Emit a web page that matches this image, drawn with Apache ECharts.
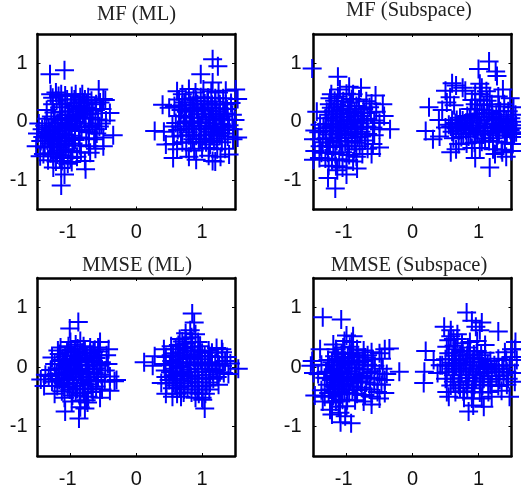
<!DOCTYPE html>
<html><head><meta charset="utf-8">
<style>html,body{margin:0;padding:0;background:#fff}#c{width:521px;height:490px}</style>
<script src="https://cdn.jsdelivr.net/npm/echarts@6/dist/echarts.min.js"></script>
</head><body><div id="c"></div>
<script>
const panelTitles = ['MF (ML)', 'MF (Subspace)', 'MMSE (ML)', 'MMSE (Subspace)'];
const tickValues = [-1, 0, 1];

const mfMl = [
[-1.31,.81],[-1.09,.88],[-.57,.55],[-.35,-.23],[-.40,.15],[-.5,.39],[-1.14,-1.09],[-1.09,-.9],[-.77,-.81],[-.78,-.67],[-.5,-.42],[-1.52,-.42],[-1.46,-.59],
[-1.3,.47],[-1.22,.5],[-1.18,.44],[-1.08,.45],[-.98,.44],[-.85,.42],[-.78,.38],[-.68,.36],[-.55,.33],[-.47,.37],[-.52,.22],[-.62,.2],[-.74,.24],[-.87,.27],[-.99,.31],[-1.12,.3],[-1.27,.3],[-1.36,.2],
[-1.25,.16],[-1.13,.17],[-1.02,.18],[-.92,.13],[-.81,.12],[-.69,.07],[-.58,.04],[-.46,.02],[-.56,-.08],[-.67,-.06],[-.78,-.03],[-.9,0],[-1.01,.03],[-1.13,.05],[-1.24,.04],[-1.36,.05],[-1.48,-.03],
[-1.43,-.13],[-1.33,-.1],[-1.22,-.08],[-1.12,-.1],[-1.03,-.12],[-.93,-.14],[-.83,-.16],[-.72,-.18],[-.6,-.2],[-.5,-.27],[-.64,-.3],[-.76,-.28],[-.87,-.27],[-.98,-.24],[-1.08,-.22],[-1.17,-.2],[-1.27,-.21],[-1.38,-.23],[-1.5,-.2],
[-1.45,-.33],[-1.35,-.32],[-1.25,-.3],[-1.16,-.33],[-1.06,-.34],[-.96,-.37],[-.86,-.4],[-.72,-.42],[-.62,-.46],[-.7,-.53],[-.84,-.52],[-.97,-.5],[-1.07,-.47],[-1.17,-.44],[-1.28,-.42],[-1.39,-.44],
[-1.41,-.55],[-1.3,-.54],[-1.2,-.56],[-1.1,-.58],[-1,-.62],[-.9,-.6],[-1.34,-.66],[-1.22,-.68],[-1.13,-.67],[-1.04,-.72],[-1.26,-.78],[-1.14,-.79],[-.98,-.69],
[-1.19,-.02],[-1.06,-.04],[-.95,.27],[-1.19,-.26],[-1.31,-.16],[-.85,.05],[-1.08,.11],[-.8,.33],[-1.21,.36],
[-1.39,-.07],[-1.33,-.28],[-1.27,-.13],[-1.24,-.37],[-1.21,-.49],[-1.19,-.17],[-1.15,.02],[-1.14,-.39],[-1.11,-.52],[-1.09,-.28],[-1.07,-.15],[-1.04,.07],[-1.03,-.41],[-1.02,-.28],[-.99,-.07],[-.97,.12],[-.94,.38],[-.93,-.31],[-.91,.22],[-.89,.09],[-.88,.33],[-.86,-.09],[-.83,.23],[-.79,.17],[-.77,.07],[-.75,.31],[-.71,.13],[-1.31,-.37],[-1.37,-.17],[-1.29,.09],[-1.16,.25],[-1.05,.38],[-1.42,-.26],[-1.26,-.59],[-1.16,-.62],
[-1.27,.41],[-1.14,.47],[-.92,.47],[-.82,.47],[-.73,.42],[-.61,.3],[-.66,.14],[-.72,-.1],[-.62,-.13],[-.53,-.03],
[.28,-.16],[.4,.29],[.5,.24],[.45,-.39],[.56,-.62],[.91,-.65],[1.16,-.67],[1.16,1.07],[1.24,.95],[.98,.81],[1.16,.67],[1.51,.55],[1.36,.53],[1.54,.39],[1.54,-.27],[1.41,-.56],[.42,-.17],
[.62,.52],[.7,.47],[.8,.56],[.9,.5],[1.02,.55],[1.14,.52],[1.25,.5],[.65,.38],[.75,.39],[.87,.4],[.98,.42],[1.09,.41],[1.2,.4],[1.32,.4],[1.44,.32],[1.38,.22],[1.27,.3],
[.58,.27],[.7,.28],[.82,.29],[.93,.3],[1.04,.31],[1.15,.29],[.76,.17],[.88,.18],[.99,.2],[1.1,.19],[1.22,.18],[1.34,.14],[1.46,.12],[1.5,.03],[1.39,.04],[1.28,.06],[1.17,.09],[1.05,.08],[.94,.07],[.83,.07],[.65,.1],
[.6,-.02],[.72,-.02],[.84,-.03],[.95,-.01],[1.06,-.02],[1.17,-.03],[1.29,-.04],[1.41,-.06],[1.47,-.13],[1.33,-.14],[1.22,-.12],[1.1,-.11],[.99,-.12],[.88,-.13],[.76,-.12],[.63,-.14],[.55,-.08],
[.57,-.25],[.68,-.24],[.8,-.23],[.91,-.24],[1.03,-.23],[1.15,-.22],[1.27,-.24],[1.39,-.25],[1.47,-.3],[1.3,-.35],[1.18,-.33],[1.06,-.35],[.95,-.34],[.83,-.36],[.7,-.35],[.56,-.38],
[.62,-.47],[.76,-.46],[.88,-.49],[1,-.46],[1.11,-.45],[1.23,-.47],[1.35,-.46],[1.1,-.58],[1.28,-.6],[.8,-.6],[1.2,-.68],
[1.01,.13],[1.03,.24],[1.07,-.07],[1.08,.35],[1.12,.04],[1.13,-.17],[1.14,.24],[1.16,.14],[1.19,-.08],[1.2,.34],[1.21,.02],[1.24,-.19],[1.26,.12],[1.27,.23],[1.31,-.09],[1.32,.09],[1.35,-.2],[1.36,.3],[.97,-.07],[.93,.13],[.91,.36],[.86,-.08],[.85,.23],[.81,.01],[.79,-.18],[.74,.09],[.73,.33],[.67,-.08],[1.05,-.29],[.97,-.29],[1.22,-.29],[1.12,-.39],[.86,-.3],[.92,.25],[.68,.2]
];

const mfSub = [
[-1.52,.91],[-1.13,.77],[-.78,.58],[-.56,.45],[-.45,.3],[-.43,.1],[-.34,-.13],[-.5,-.44],[-.84,-.8],[-1.17,-1.14],[-1.28,-.96],[-1,-.9],[-1.14,-.83],[-1.5,-.65],[-1.48,-.5],[-1.5,-.3],[-1.48,-.15],[-1.45,.17],
[-1.23,.47],[-1.13,.43],[-1,.48],[-.9,.47],[-.81,.38],[-.7,.35],[-.62,.31],[-.55,.17],[-1.26,.3],[-1.15,.3],[-1.05,.35],[-.94,.33],[-.85,.27],[-.74,.22],[-.63,.16],[-1.3,.17],[-1.2,.18],[-1.09,.2],[-.98,.22],[-.88,.18],[-.78,.1],[-.68,.05],[-.58,.02],[-.5,-.02],
[-1.32,.06],[-1.22,.07],[-1.11,.08],[-1,.08],[-.9,.04],[-.79,-.03],[-.69,-.08],[-.6,-.1],[-.5,-.13],[-1.4,-.05],[-1.3,-.04],[-1.2,-.05],[-1.09,-.04],[-.98,-.05],[-.88,-.08],[-.78,-.17],[-.68,-.21],[-.58,-.23],
[-1.42,-.18],[-1.32,-.16],[-1.22,-.16],[-1.12,-.15],[-1.02,-.17],[-.92,-.2],[-.83,-.27],[-.72,-.32],[-.6,-.38],[-1.41,-.3],[-1.31,-.28],[-1.21,-.29],[-1.11,-.27],[-1.01,-.28],[-.92,-.33],[-.8,-.42],[-.68,-.46],[-.62,-.55],
[-1.4,-.42],[-1.3,-.41],[-1.2,-.43],[-1.08,-.4],[-.98,-.42],[-.88,-.47],[-.76,-.55],[-1.38,-.53],[-1.28,-.53],[-1.17,-.55],[-1.06,-.52],[-.96,-.57],[-.85,-.6],[-1.32,-.63],[-1.22,-.66],[-1.11,-.64],[-1,-.66],[-.9,-.68],[-1.27,-.75],[-1.16,-.76],[-1.06,-.78],[-1.41,-.62],
[-1.1,.55],[-.96,.6],[-1.25,.4],[-1.07,-.1],[-1.15,-.33],
[-1.27,.12],[-1.24,-.09],[-1.23,.24],[-1.18,.36],[-1.17,-.1],[-1.16,.02],[-1.14,.13],[-1.13,-.21],[-1.1,-.33],[-1.07,.26],[-1.05,.14],[-1.04,.02],[-1.03,-.11],[-1.02,-.34],[-.96,.15],[-.95,.27],[-.94,-.1],[-.93,.01],[-.92,.39],[-.86,.1],[-.84,-.13],[-.83,-.02],[-.82,.21],[-.76,-.1],[-.75,.02],[-.73,.15],[-1.26,-.22],[-1.35,-.11],[-1.36,-.35],[-1.25,-.36],[-.97,-.23],[-.87,-.22],[-.65,.25],[-1.08,-.21],[-.86,-.36],[-.77,-.25],
[.2,-.16],[.25,.25],[.31,-.3],[.41,-.25],[.4,.03],[.45,.2],[.5,.53],[.6,.66],[.66,.62],[.76,.58],[.8,.53],[.57,.42],[.52,.33],[.63,.28],[.5,-.1],[.55,-.05],
[1,.9],[1.16,1.03],[1.26,.86],[1.28,.78],[1.02,.65],[1.05,.58],[.95,.48],[1.37,.55],[1.48,.4],[1.53,.25],[1.17,.43],[1.12,.52],[1.3,.43],[1.39,.3],[.9,.37],[1.02,.38],[.95,.3],[1.08,.28],[1.2,.3],[1.33,.18],[1.45,.18],[1.56,.12],
[.6,.03],[.72,.07],[.83,.1],[.94,.13],[1.05,.14],[1.16,.15],[1.27,.12],[1.38,.09],[1.49,.06],[.58,-.08],[.69,-.05],[.79,-.03],[.9,-.01],[1.01,.02],[1.12,.03],[1.23,.02],[1.34,-.01],[1.45,-.03],[1.57,-.06],
[.6,-.17],[.7,-.15],[.81,-.14],[.92,-.12],[1.03,-.1],[1.14,-.09],[1.26,-.11],[1.37,-.13],[1.48,-.14],[1.57,-.18],[.62,-.28],[.74,-.26],[.85,-.25],[.96,-.22],[1.07,-.22],[1.18,-.2],[1.29,-.23],[1.4,-.24],[1.5,-.26],
[.7,-.38],[.82,-.37],[.94,-.36],[1.05,-.34],[1.16,-.33],[1.28,-.34],[1.4,-.36],[1.52,-.38],[.58,-.52],[.66,-.47],[.9,-.45],[1.02,-.45],[1.22,-.47],[1.35,-.48],[1.5,-.5],[.95,-.62],[1.25,-.55],[1.42,-.6],[1.17,-.78],[1.36,-.52],
[.65,-.02],[.66,-.11],[.67,.03],[.74,-.09],[.76,.02],[.77,-.21],[.87,.05],[.86,-.07],[.88,-.19],[.97,.08],[.98,-.06],[.99,-.17],[1.09,.09],[1.09,-.03],[1.1,-.16],[1.1,-.28],[1.21,.08],[1.2,-.04],[1.21,-.16],[1.22,-.28],[1.31,.05],[1.3,-.06],[1.31,-.18],[1.42,.03],[1.42,-.09],[1.43,-.19],[1.53,0],[1.52,-.11],[1.54,-.21],[1.08,.2],[.98,.21],[1.2,.19],[1.31,.26],[.88,.22],[1.13,.36],[1.03,.47]
];

const mmseMl = [
[-.88,.76],[-1.01,.65],[-.87,-.87],[-1.08,-.75],[-.78,-.7],[-.85,-.68],[-.3,-.22],[-.33,-.24],[-1.45,-.21],[-1.4,-.32],[-1.38,-.13],[-.4,-.4],[-.55,-.52],[-.74,-.6],
[-1.15,.33],[-1.03,.35],[-.92,.38],[-.8,.35],[-.7,.33],[-.58,.33],[-.42,.3],[-.45,.2],[-.58,.2],[-.7,.23],[-.82,.24],[-.93,.26],[-1.05,.25],[-1.17,.22],[-1.28,.16],
[-1.24,.05],[-1.12,.12],[-1,.14],[-.88,.15],[-.77,.13],[-.65,.1],[-.53,.08],[-.43,.05],[-.47,-.06],[-.6,-.02],[-.72,.02],[-.83,.04],[-.95,.03],[-1.07,.02],[-1.18,-.02],[-1.3,-.05],
[-1.33,-.15],[-1.21,-.12],[-1.1,-.09],[-.98,-.07],[-.87,-.06],[-.76,-.08],[-.64,-.1],[-.53,-.13],[-.4,-.16],[-.48,-.25],[-.6,-.22],[-.72,-.18],[-.83,-.16],[-.95,-.17],[-1.06,-.19],[-1.17,-.22],[-1.28,-.25],
[-1.2,-.32],[-1.09,-.29],[-.97,-.27],[-.85,-.27],[-.73,-.29],[-.61,-.33],[-.52,-.38],[-.66,-.42],[-.78,-.38],[-.9,-.37],[-1.01,-.38],[-1.13,-.41],[-1.24,-.45],[-1.09,-.52],[-.97,-.48],[-.86,-.48],[-.73,-.5],[-.98,-.58],[-.85,-.57],[-.76,-.56],
[-1,.42],[-.85,.44],[-.55,.42],[-.9,.1],[-1,-.02],[-.8,-.22],[-1.1,.05],[-.65,.25],[-.88,-.1],[-.95,-.33],
[-1.16,.1],[-1.14,-.03],[-1.13,-.14],[-1.11,-.27],[-1.08,.18],[-1.05,.08],[-1.04,-.04],[-1.02,-.13],[-1.03,-.27],[-.99,.29],[-.96,.19],[-.94,.09],[-.92,-.04],[-.91,-.22],[-.89,.31],[-.86,.2],[-.85,.09],[-.84,-.03],[-.82,-.11],[-.81,-.31],[-.78,.29],[-.75,.19],[-.74,.08],[-.73,-.04],[-.71,-.12],[-.69,-.24],[-.68,.16],[-.66,.04],[-.64,-.04],[-.63,.29],[-.61,.15],[-.58,-.17],[-.56,.26],[-.55,.02],[-1.19,.28],[-1.22,-.2],[-1.04,-.34],[-.92,-.43],[-.8,-.44],[-.68,-.36],
[.12,.08],[.28,.18],[.25,.02],[.38,-.27],[.45,-.45],[.55,-.5],[.85,.9],[.88,.75],[.75,.57],[.82,.62],[.9,.55],[1.55,-.03],[1.43,.06],[1.4,-.12],[1.38,.17],[1.3,.3],[1.04,-.7],[1.01,-.55],
[.42,.3],[.53,.35],[.64,.37],[.75,.39],[.85,.42],[.97,.35],[1.1,.28],[1.22,.32],[1.31,.25],[.45,.17],[.56,.23],[.67,.25],[.78,.28],[.89,.28],[1,.24],[1.12,.18],[1.24,.17],[1.35,.1],
[.42,.05],[.54,.1],[.65,.13],[.76,.15],[.87,.15],[.98,.13],[1.09,.08],[1.2,.06],[1.31,.02],[.44,-.06],[.56,-.03],[.67,0],[.78,.03],[.89,.04],[1,.02],[1.11,-.03],[1.22,-.05],[1.33,-.1],
[.45,-.17],[.56,-.14],[.67,-.12],[.78,-.09],[.89,-.08],[1,-.08],[1.11,-.13],[1.23,-.17],[.46,-.28],[.57,-.26],[.68,-.23],[.79,-.2],[.9,-.19],[1.01,-.2],[1.12,-.26],[1.25,-.3],[.55,-.36],[.66,-.35],[.78,-.33],[.89,-.32],[1,-.33],[1.11,-.38],
[.62,-.45],[.72,-.43],[.84,-.43],[.95,-.45],[1.05,-.45],[1,-.52],[.9,-.52],[.68,-.5],[.75,.48],[.66,.47],[.93,.18],[.7,-.07],[.85,-.25],[.6,.3],
[.51,.03],[.52,-.09],[.53,.2],[.6,.08],[.61,-.08],[.62,-.2],[.63,.19],[.7,.06],[.71,.19],[.72,-.16],[.73,-.28],[.73,.32],[.81,.08],[.82,-.04],[.83,-.15],[.83,.21],[.84,.34],[.93,.07],[.94,-.03],[.94,-.14],[.95,-.26],[.95,.27],[1.04,.18],[1.05,.06],[1.05,-.08],[1.06,-.19],[1.07,-.31],[1.15,.05],[1.16,-.08],[1.17,-.2],[1.15,.24],[1.26,.04],[1.27,-.09],[.6,-.31],[.73,-.38],[.5,-.22],[.94,.42],[.7,.43],[.84,.5],[.93,-.38]
];

const mmseSub = [
[-1.36,.84],[-1.08,.8],[-1,.53],[-.9,.52],[-1.4,.3],[-.2,-.08],[-.35,.31],[-.42,.3],[-.93,-.95],[-1.09,-.93],[-1.22,-.8],[-1.02,-.83],[-1.52,.1],[-1.54,.02],[-1.5,-.1],[-1.48,-.48],
[-1.16,.3],[-1.05,.33],[-.95,.34],[-.84,.3],[-.74,.28],[-.62,.25],[-.5,.23],[-.47,.14],[-.6,.13],[-.72,.16],[-.83,.19],[-.95,.22],[-1.07,.22],[-1.18,.18],[-1.28,.12],[-1.38,.04],
[-1.26,.03],[-1.14,.08],[-1.03,.1],[-.92,.11],[-.8,.08],[-.68,.04],[-.57,.02],[-.45,-.03],[-.39,-.12],[-.5,-.11],[-.62,-.07],[-.74,-.04],[-.85,-.02],[-.97,-.01],[-1.08,-.02],[-1.19,-.05],[-1.31,-.08],[-1.43,-.12],
[-1.33,-.18],[-1.21,-.15],[-1.09,-.13],[-.98,-.11],[-.87,-.12],[-.76,-.15],[-.64,-.18],[-.53,-.2],[-.42,-.22],[-.47,-.3],[-.58,-.29],[-.7,-.26],[-.82,-.24],[-.94,-.22],[-1.05,-.24],[-1.17,-.26],[-1.29,-.3],
[-1.38,-.39],[-1.25,-.38],[-1.13,-.36],[-1,-.33],[-.89,-.33],[-.77,-.35],[-.65,-.38],[-.53,-.42],[-.42,-.44],[-.5,-.53],[-.62,-.5],[-.72,-.47],[-.84,-.45],[-.96,-.44],[-1.08,-.46],[-1.2,-.49],[-1.33,-.5],
[-1.22,-.6],[-1.1,-.57],[-.99,-.56],[-.87,-.56],[-.74,-.58],[-.62,-.63],[-1.12,-.67],[-1,-.66],[-1.25,-.72],[-1.1,-.77],[-1.36,-.58],[-1.2,.38],[-1.03,.44],[-.92,.42],
[-1.24,-.1],[-1.23,-.22],[-1.22,.08],[-1.2,-.33],[-1.19,-.42],[-1.15,-.08],[-1.14,-.2],[-1.13,.14],[-1.12,-.3],[-1.11,-.41],[-1.1,.02],[-1.07,-.09],[-1.06,-.18],[-1.05,.15],[-1.04,-.29],[-1.03,-.38],[-1.02,.05],[-1,-.17],[-.98,.17],[-.97,-.28],[-.96,.07],[-.93,-.07],[-.92,-.18],[-.91,-.38],[-.9,.24],[-.88,.04],[-.85,-.2],[-.84,-.39],[-.82,.1],[-.78,-.26],[-.76,.1],[-1.27,-.44],[-1.3,-.19],[-1.15,.25],[-.68,-.1],[-1.06,-.55],[-1.16,-.58],[-.68,.2],
[.2,.27],[.18,-.08],[.17,-.27],[.32,.12],[.42,.03],[.38,-.1],[.48,.68],[.58,.62],[.68,.55],[.82,.92],[.9,.78],[1.05,.75],[.96,.68],[1.02,.62],[1.3,.6],[.55,.45],[.62,.47],[1.56,.42],[1.5,.3],[1.55,.3],[1.58,.12],
[.52,.34],[.63,.36],[.75,.4],[.87,.42],[.98,.44],[1.1,.37],[.55,.23],[.65,.24],[.76,.27],[.87,.26],[.98,.27],[1.1,.24],[1.4,.25],[1.5,.17],[.5,.13],[.6,.13],[.71,.12],[.82,.14],[.94,.15],[1.05,.13],[1.18,.1],[1.3,.14],[1.42,.12],
[.45,.03],[.55,.02],[.66,.02],[.77,.03],[.88,.03],[1,.02],[1.12,0],[1.24,.03],[1.36,.02],[1.47,.03],[.52,-.09],[.63,-.07],[.74,-.08],[.86,-.07],[.97,-.08],[1.08,-.1],[1.2,-.07],[1.31,-.09],[1.43,-.08],[1.55,-.1],
[.5,-.2],[.62,-.2],[.73,-.19],[.85,-.18],[.96,-.19],[1.08,-.2],[1.2,-.2],[1.32,-.21],[1.45,-.2],[1.55,-.25],[.58,-.31],[.7,-.3],[.82,-.3],[.94,-.3],[1.06,-.31],[1.18,-.3],[1.3,-.32],[1.43,-.3],[.52,-.42],[.65,-.42],[.77,-.41],[.9,-.42],[1.02,-.43],[1.15,-.42],
[1.35,-.4],[1.47,-.5],[.78,-.52],[.9,-.53],[1.05,-.53],[1.2,-.5],[.55,-.5],[.85,-.75],[.92,-.65],[1.08,-.67],
[.6,.07],[.61,-.03],[.62,-.14],[.62,-.25],[.63,.19],[.65,.3],[.7,.06],[.71,-.03],[.72,-.13],[.72,-.25],[.72,-.36],[.73,.2],[.8,.08],[.81,-.02],[.81,-.13],[.82,-.24],[.83,-.35],[.83,.2],[.84,.33],[.91,.09],[.91,-.03],[.92,-.13],[.92,-.24],[.93,-.36],[.93,.21],[1.01,.08],[1.02,-.03],[1.02,-.14],[1.03,-.25],[1.04,.2],[1.14,.05],[1.14,-.04],[1.15,-.15],[1.15,-.25],[1.27,-.03],[1.27,-.15],[1.38,-.03],[1.38,-.14],[.68,.47],[.58,.52]
];

const panels = [mfMl, mfSub, mmseMl, mmseSub];
const boxes = [
  {l:37.5, r:235, t:34, b:209.5, tx:136.5, ty:15},
  {l:313.5, r:511.5, t:34, b:209.5, tx:409, ty:11},
  {l:37.5, r:235, t:278, b:456, tx:137, ty:266},
  {l:313.5, r:511.5, t:278, b:456, tx:409, ty:266}
];

const plus = 'path://M0 -10L0 10M-10 0L10 0';
const option = {animation:false, backgroundColor:'#fff', grid:[], xAxis:[], yAxis:[], series:[], title:[]};
panels.forEach((data,i)=>{
  const b = boxes[i];
  option.title.push({text:panelTitles[i], left:b.tx, top:b.ty, padding:0, textAlign:'center', textVerticalAlign:'middle',
    textStyle:{fontFamily:'Liberation Serif', fontSize:20.5, fontWeight:'normal', color:'#222'}});
  option.grid.push({left:b.l, top:b.t, width:b.r-b.l, height:b.b-b.t, containLabel:false});
  const common = {gridIndex:i, type:'value', min:-1.5, max:1.5, splitLine:{show:false},
    axisLine:{show:true, onZero:false, lineStyle:{color:'#000', width:2.5}},
    axisTick:{show:true, inside:true, length:3, customValues:tickValues, lineStyle:{color:'#000', width:1}}};
  const lab = {show:true, customValues:tickValues, fontFamily:'Liberation Sans', fontSize:20, color:'#111'};
  option.xAxis.push({...common, position:'bottom', axisLabel:{...lab, margin:13, formatter:v=>v<0?v+' ':String(v)}});
  option.xAxis.push({...common, position:'top', axisLabel:{show:false}});
  option.yAxis.push({...common, position:'left', axisLabel:{...lab, margin:i%2?12:10}});
  option.yAxis.push({...common, position:'right', axisLabel:{show:false}});
  option.series.push({type:'scatter', xAxisIndex:i*2, yAxisIndex:i*2, data, clip:false, symbol:plus, symbolSize:19,
    itemStyle:{color:'rgba(0,0,0,0)', borderColor:'#0000ff', borderWidth:2, opacity:1}, emphasis:{disabled:true}});
});
const chart = echarts.init(document.getElementById('c'), null, {renderer:'canvas'});
chart.setOption(option);
</script></body></html>
